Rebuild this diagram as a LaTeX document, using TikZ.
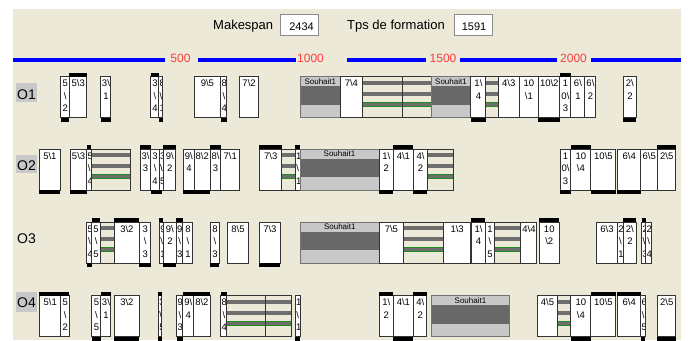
\documentclass[tikz,border=0pt]{standalone}
\usepackage{fontspec}
\setmainfont{Liberation Sans}
\newdimen\jw
\newcommand\bksl{\textbackslash}
\newcommand\jl[1]{\hbox to \jw{\hfil#1\hfil}}
\definecolor{beige}{HTML}{ECE9D8}
\definecolor{hbar}{HTML}{6E6E6E}
\definecolor{sgl}{HTML}{C8C8C8}
\definecolor{sgd}{HTML}{686868}
\definecolor{lbg}{HTML}{C8C8C8}
\definecolor{tickred}{HTML}{FF3C3C}
\definecolor{hgreen}{HTML}{1E8C1E}
\tikzset{
 boxline/.style={draw=black!80, line width=0.7pt},
 lbl/.style={font=\fontsize{9.5}{12}\selectfont, inner sep=0pt, anchor=base west},
 blueline/.style={draw=blue, line width=4pt},
 ticklbl/.style={font=\fontsize{12}{14}\selectfont, text=tickred, inner sep=0pt, anchor=base},
 rowlbl/.style={font=\fontsize{14}{16}\selectfont, inner sep=0pt, anchor=base, draw=none},
}
\newcommand\jbox[4]{%
 \pgfmathsetlength\jw{#2-#1-1.5}%
 \begin{scope}
  \clip (#1,#3) rectangle (#2,#3+41);
  \fill[white] (#1,#3) rectangle (#2,#3+41);
  \node[lbl] at (#1+0.8,#3+10) {\vtop{\baselineskip=12.5pt\lineskiplimit=-20pt #4}};
 \end{scope}
 \draw[boxline] (#1,#3) rectangle (#2,#3+41);
}
\newcommand\tbar[3]{\fill[black] (#1,#3-4) rectangle (#2,#3);}
\newcommand\bbar[3]{\fill[black] (#1,#3+41) rectangle (#2,#3+45);}
\newcommand\hatch[3]{%
 \fill[beige] (#1,#3) rectangle (#2,#3+41);
 \fill[hbar] (#1,#3+4) rectangle (#2,#3+8.3);
 \fill[hbar] (#1,#3+15.3) rectangle (#2,#3+19.3);
 \filldraw[fill=hbar, draw=hgreen, line width=0.55pt] (#1,#3+25.3) rectangle (#2,#3+29.3);
 \draw[boxline] (#1,#3) rectangle (#2,#3+41);
}
\newcommand\souh[3]{%
 \filldraw[fill=sgl, draw=black!55, line width=0.7pt] (#1,#3) rectangle (#2,#3+41);
 \fill[sgd] (#1,#3+9.5) rectangle (#2,#3+28);
 \draw[black!55, line width=0.7pt] (#1,#3) rectangle (#2,#3+41);
 \node[font=\fontsize{8}{9}\selectfont, inner sep=0pt, anchor=base] at ({(#1+#2)/2},#3+7.5) {Souhait1};
}
\def\ya{76.5}\def\yb{149}\def\yc{222}\def\yd{295.5}
\begin{document}
\begin{tikzpicture}[x=1pt,y=-1pt]
\useasboundingbox (0,0) rectangle (688,340);
\fill[white] (0,0) rectangle (688,340);
\fill[beige] (13,9) rectangle (681,340);
% header
\node[font=\fontsize{13}{15}\selectfont, inner sep=0pt, anchor=base west] (mk) at (213,29.3) {Makespan};
\draw[fill=white, draw=black!45, line width=0.8pt] (280,14) rectangle (318,35);
\node[font=\fontsize{11}{13}\selectfont, inner sep=0pt, anchor=base] (mkv) at (301.5,30) {2434};
\node[font=\fontsize{13}{15}\selectfont, inner sep=0pt, anchor=base west] (tf) at (347,29.3) {Tps de formation};
\draw[fill=white, draw=black!45, line width=0.8pt] (454,14) rectangle (492,35);
\node[font=\fontsize{11}{13}\selectfont, inner sep=0pt, anchor=base] (tfv) at (474,30) {1591};
% time axis
\draw[blueline] (13,60) -- (165,60);
\draw[blueline] (198,60) -- (296,60);
\draw[blueline] (347,60) -- (426,60);
\draw[blueline] (460,60) -- (557,60);
\draw[blueline] (591,60) -- (681,60);
\node[ticklbl] (t500) at (180.5,62.5) {500};
\node[ticklbl] (t1000) at (310.5,62.5) {1000};
\node[ticklbl] (t1500) at (443,62.5) {1500};
\node[ticklbl] (t2000) at (573.5,62.5) {2000};
% row labels
\fill[lbg] (16,83.3) rectangle (37,101.7);
\node[rowlbl] (o1) at (26.5,99.5) {O1};
\fill[lbg] (16,155) rectangle (37,172.7);
\node[rowlbl] (o2) at (26.5,170.5) {O2};
\node[rowlbl] (o3) at (26.5,243.3) {O3};
\fill[lbg] (16,291.7) rectangle (37,311.7);
\node[rowlbl] (o4) at (26.5,307.5) {O4};
% ---------- O1
\jbox{60.7}{69.3}{\ya}{\jl{5}\jl{\bksl}\jl{2}}\bbar{60.7}{69.3}{\ya}
\jbox{69.3}{86.7}{\ya}{\jl{5\bksl3}}\tbar{69.3}{86.7}{\ya}
\jbox{100.7}{110.7}{\ya}{\jl{3\bksl}\jl{1}}\bbar{100.7}{110.7}{\ya}
\jbox{150.7}{158.7}{\ya}{\jl{3}\jl{\bksl}\jl{4}}\tbar{150.7}{158.7}{\ya}
\jbox{158.7}{162.7}{\ya}{\jl{8}\jl{\bksl}\jl{1}}\bbar{158.7}{162.7}{\ya}
\jbox{194.3}{220}{\ya}{\jl{9\bksl5}}
\jbox{220.7}{226.7}{\ya}{\jl{8}\jl{\bksl}\jl{4}}\bbar{220.7}{226.7}{\ya}
\jbox{239}{258.7}{\ya}{\jl{7\bksl2}}
\souh{300.7}{340}{\ya}
\jbox{340}{362.3}{\ya}{\jl{7\bksl4}}
\hatch{362.3}{402}{\ya}\hatch{402}{431.3}{\ya}
\souh{431.3}{470.7}{\ya}
\jbox{470.7}{485.7}{\ya}{\jl{1\bksl}\jl{4}}\bbar{470.7}{485.7}{\ya}
\hatch{485.7}{498}{\ya}
\jbox{498}{519}{\ya}{\jl{4\bksl3}}
\jbox{519}{538.3}{\ya}{\jl{10}\jl{\bksl1}}
\jbox{538.3}{559.7}{\ya}{\jl{10\bksl2}}\bbar{538.3}{559.7}{\ya}
\jbox{559.7}{570.7}{\ya}{\jl{1}\jl{0\bksl}\jl{3}}\tbar{559.7}{570.7}{\ya}
\jbox{570.7}{584.7}{\ya}{\jl{6\bksl}\jl{1}}
\jbox{584.7}{595.7}{\ya}{\jl{6\bksl}\jl{2}}
\jbox{623}{636.3}{\ya}{\jl{2\bksl}\jl{2}}\bbar{623}{636.3}{\ya}
% ---------- O2
\jbox{39.3}{60}{\yb}{\jl{5\bksl1}}\bbar{39.3}{60}{\yb}
\jbox{70}{86.7}{\yb}{\jl{5\bksl3}}\bbar{70}{86.7}{\yb}
\jbox{86.7}{91}{\yb}{\jl{5}\jl{\bksl}\jl{4}}\tbar{86.7}{91}{\yb}
\hatch{91}{130}{\yb}
\jbox{140}{150.7}{\yb}{\jl{3\bksl}\jl{3}}\tbar{140}{150.7}{\yb}
\jbox{150.7}{159}{\yb}{\jl{3}\jl{\bksl}\jl{4}}
\jbox{159}{163.3}{\yb}{\jl{3}\jl{\bksl}\jl{5}}\bbar{150.7}{161.7}{\yb}
\jbox{163.3}{175.7}{\yb}{\jl{9\bksl}\jl{2}}\tbar{163.3}{175.7}{\yb}
\jbox{183.3}{194}{\yb}{\jl{9\bksl}\jl{4}}
\jbox{194}{210}{\yb}{\jl{8\bksl2}}\bbar{183.3}{210}{\yb}
\jbox{210}{220.7}{\yb}{\jl{8\bksl}\jl{3}}\tbar{210}{220.7}{\yb}
\jbox{220.7}{239.3}{\yb}{\jl{7\bksl1}}
\jbox{259.3}{281.7}{\yb}{\jl{7\bksl3}}\tbar{259.3}{281.7}{\yb}
\hatch{281.7}{295}{\yb}
\jbox{295}{300}{\yb}{\jl{1}\jl{\bksl}\jl{1}}\tbar{295}{300}{\yb}
\souh{300}{379}{\yb}
\jbox{379}{393}{\yb}{\jl{1\bksl}\jl{2}}\bbar{379}{393}{\yb}
\jbox{393}{413.3}{\yb}{\jl{4\bksl1}}\tbar{393}{413.3}{\yb}
\jbox{413.3}{427.3}{\yb}{\jl{4\bksl}\jl{2}}\bbar{413.3}{427.3}{\yb}
\hatch{427.3}{453.3}{\yb}
\jbox{560}{570.7}{\yb}{\jl{1}\jl{0\bksl}\jl{3}}\bbar{560}{570.7}{\yb}
\jbox{570.7}{590.7}{\yb}{\jl{10}\jl{\bksl4}}\tbar{570.7}{590.7}{\yb}
\jbox{590.7}{615.7}{\yb}{\jl{10\bksl5}}\bbar{590.7}{615.7}{\yb}
\jbox{617.3}{640.7}{\yb}{\jl{6\bksl4}}\bbar{617.3}{640.7}{\yb}
\jbox{640.7}{657.3}{\yb}{\jl{6\bksl5}}
\jbox{657.3}{675.7}{\yb}{\jl{2\bksl5}}\tbar{657.3}{675.7}{\yb}
% ---------- O3
\jbox{86.7}{91.7}{\yc}{\jl{5}\jl{\bksl}\jl{4}}\bbar{86.7}{91.7}{\yc}
\jbox{91.7}{100}{\yc}{\jl{5}\jl{\bksl}\jl{5}}\tbar{91.7}{100}{\yc}
\hatch{100}{114}{\yc}
\jbox{114}{139.3}{\yc}{\jl{3\bksl2}}\tbar{114}{139.3}{\yc}
\jbox{139.3}{150.7}{\yc}{\jl{3}\jl{\bksl}\jl{3}}\bbar{139.3}{150.7}{\yc}
\jbox{159.3}{163.3}{\yc}{\jl{9}\jl{\bksl}\jl{1}}\tbar{159.3}{163.3}{\yc}
\jbox{163.3}{176}{\yc}{\jl{9\bksl}\jl{2}}\bbar{163.3}{176}{\yc}
\jbox{176}{182.7}{\yc}{\jl{9}\jl{\bksl}\jl{3}}\tbar{176}{182.7}{\yc}
\jbox{182.7}{192.7}{\yc}{\jl{8}\jl{\bksl}\jl{1}}
\jbox{210}{219.3}{\yc}{\jl{8}\jl{\bksl}\jl{3}}\bbar{210}{219.3}{\yc}
\jbox{227.3}{248.3}{\yc}{\jl{8\bksl5}}
\jbox{259.3}{280}{\yc}{\jl{7\bksl3}}\bbar{259.3}{280}{\yc}
\souh{300.7}{379}{\yc}
\jbox{379}{403.3}{\yc}{\jl{7\bksl5}}
\hatch{403.3}{443}{\yc}
\jbox{443}{470.7}{\yc}{\jl{1\bksl3}}
\jbox{471.3}{485.3}{\yc}{\jl{1\bksl}\jl{4}}\tbar{471.3}{485.3}{\yc}
\jbox{485.3}{494}{\yc}{\jl{1}\jl{\bksl}\jl{5}}
\hatch{494}{520.7}{\yc}
\jbox{520.7}{536.7}{\yc}{\jl{4\bksl4}}
\jbox{539}{559}{\yc}{\jl{10}\jl{\bksl2}}\tbar{539}{559}{\yc}
\jbox{596.3}{617.3}{\yc}{\jl{6\bksl3}}
\jbox{617.3}{623.3}{\yc}{\jl{2}\jl{\bksl}\jl{1}}
\jbox{623.3}{636}{\yc}{\jl{2\bksl}\jl{2}}\tbar{623.3}{636}{\yc}
\jbox{641.7}{645.7}{\yc}{\jl{2}\jl{\bksl}\jl{3}}\tbar{641.7}{645.7}{\yc}
\jbox{645.7}{651.3}{\yc}{\jl{2}\jl{\bksl}\jl{4}}
% ---------- O4
\jbox{39.3}{60.7}{\yd}{\jl{5\bksl1}}
\jbox{60.7}{69.3}{\yd}{\jl{5}\jl{\bksl}\jl{2}}\tbar{39.3}{69.3}{\yd}
\jbox{91.7}{100.7}{\yd}{\jl{5}\jl{\bksl}\jl{5}}\bbar{91.7}{100.7}{\yd}
\jbox{100.7}{110.7}{\yd}{\jl{3\bksl}\jl{1}}\tbar{100.7}{110.7}{\yd}
\jbox{114}{139.3}{\yd}{\jl{3\bksl2}}\bbar{114}{139.3}{\yd}
\jbox{158.3}{161.7}{\yd}{\jl{3}\jl{\bksl}\jl{5}}\tbar{158.3}{161.7}{\yd}\bbar{158.3}{161.7}{\yd}
\jbox{176.7}{182.7}{\yd}{\jl{9}\jl{\bksl}\jl{3}}\bbar{176.7}{182.7}{\yd}
\jbox{182.7}{193.3}{\yd}{\jl{9\bksl}\jl{4}}
\jbox{193.3}{210}{\yd}{\jl{8\bksl2}}\tbar{182.7}{210}{\yd}
\jbox{220.7}{226.7}{\yd}{\jl{8}\jl{\bksl}\jl{4}}\tbar{220.7}{226.7}{\yd}
\hatch{226.7}{265.7}{\yd}\hatch{265.7}{291.7}{\yd}
\jbox{295}{300}{\yd}{\jl{1}\jl{\bksl}\jl{1}}\bbar{295}{300}{\yd}
\jbox{379}{393}{\yd}{\jl{1\bksl}\jl{2}}\tbar{379}{393}{\yd}
\jbox{393}{413.3}{\yd}{\jl{4\bksl1}}\bbar{393}{413.3}{\yd}
\jbox{413.3}{426.7}{\yd}{\jl{4\bksl}\jl{2}}\tbar{413.3}{426.7}{\yd}
\souh{431.3}{509.7}{\yd}
\jbox{537.3}{557.3}{\yd}{\jl{4\bksl5}}
\hatch{557.3}{570.7}{\yd}
\jbox{570.7}{590.7}{\yd}{\jl{10}\jl{\bksl4}}\bbar{570.7}{590.7}{\yd}
\jbox{590.7}{615.7}{\yd}{\jl{10\bksl5}}\tbar{590.7}{615.7}{\yd}
\jbox{617.3}{640.7}{\yd}{\jl{6\bksl4}}\tbar{617.3}{640.7}{\yd}
\jbox{640.7}{645}{\yd}{\jl{6}\jl{\bksl}\jl{5}}\bbar{640.7}{645}{\yd}
\jbox{657.3}{675.7}{\yd}{\jl{2\bksl5}}\bbar{657.3}{675.7}{\yd}
\end{tikzpicture}
\end{document}
